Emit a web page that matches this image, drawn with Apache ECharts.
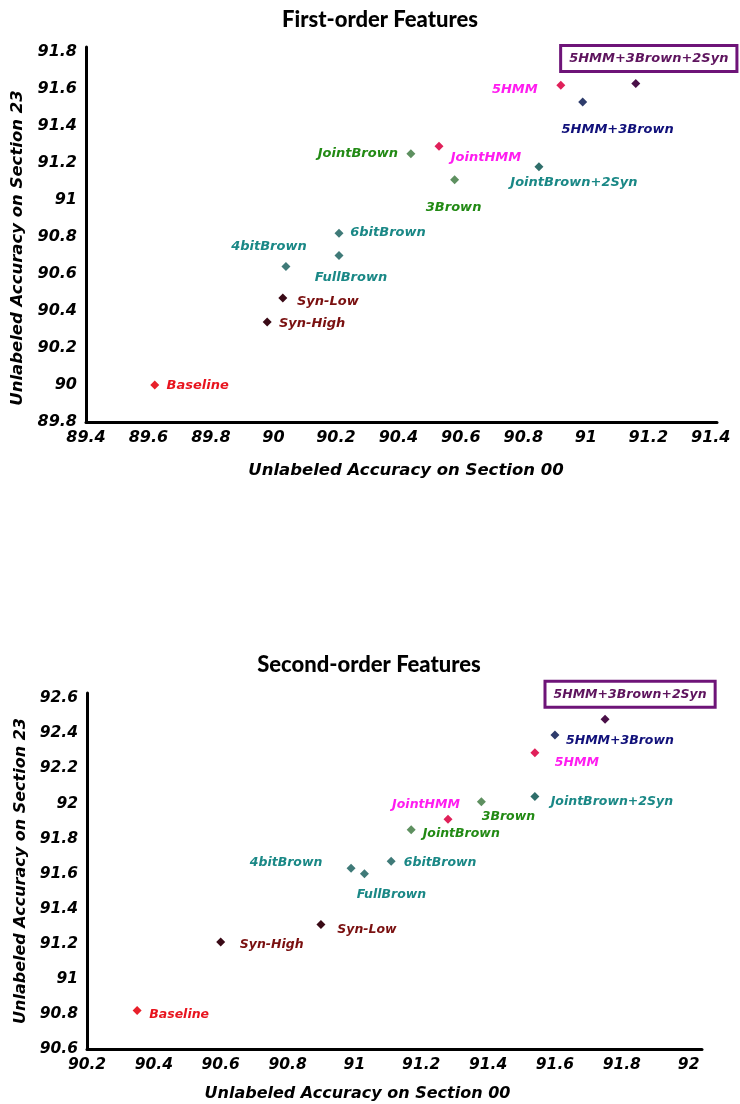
<!DOCTYPE html>
<html><head><meta charset="utf-8">
<script src="https://cdn.jsdelivr.net/npm/echarts@6/dist/echarts.min.js"></script>
<style>html,body{margin:0;padding:0;background:#fff}#c{width:740px;height:1104px}</style>
</head><body><div id="c"></div>
<script>
// ---- data ----
const categories = ['Baseline','Syn-High','Syn-Low','4bitBrown','FullBrown','6bitBrown','JointBrown','JointHMM','3Brown','JointBrown+2Syn','5HMM','5HMM+3Brown','5HMM+3Brown+2Syn'];
const firstOrderSec00  = [89.62, 89.98, 90.03, 90.04, 90.21, 90.21, 90.44, 90.53, 90.58, 90.85, 90.92, 90.99, 91.16];
const firstOrderSec23  = [90.00, 90.34, 90.47, 90.64, 90.70, 90.82, 91.25, 91.29, 91.11, 91.18, 91.62, 91.53, 91.63];
const secondOrderSec00 = [90.35, 90.60, 90.90, 90.99, 91.03, 91.11, 91.17, 91.28, 91.38, 91.54, 91.54, 91.60, 91.75];
const secondOrderSec23 = [90.82, 91.21, 91.31, 91.63, 91.60, 91.67, 91.85, 91.91, 92.01, 92.04, 92.29, 92.39, 92.48];
const firstXTicks  = [89.4, 89.6, 89.8, 90, 90.2, 90.4, 90.6, 90.8, 91, 91.2, 91.4];
const firstYTicks  = [89.8, 90, 90.2, 90.4, 90.6, 90.8, 91, 91.2, 91.4, 91.6, 91.8];
const secondXTicks = [90.2, 90.4, 90.6, 90.8, 91, 91.2, 91.4, 91.6, 91.8, 92];
const secondYTicks = [90.6, 90.8, 91, 91.2, 91.4, 91.6, 91.8, 92, 92.2, 92.4, 92.6];
const titles = ['First-order Features', 'Second-order Features'];
const xAxisTitle = 'Unlabeled Accuracy on Section 00';
const yAxisTitle = 'Unlabeled Accuracy on Section 23';
const boxedCategory = '5HMM+3Brown+2Syn';

// ---- styles / layout (kept apart from data) ----
const markerColors = ['#e8202a','#3a0a16','#3a0a16','#3f7a78','#3f7a78','#3f7a78','#5e9060','#e0205a','#5e9060','#2f6e6a','#e0205a','#2e3c6c','#4a1048'];
const labelColors  = ['#e8141e','#7a1010','#7a1010','#1a8886','#1a8886','#1a8886','#228a14','#ff1cf0','#228a14','#1a8886','#ff1cf0','#10107a','#5e145e'];
const firstLabelOffsets  = [[43,1],[45,2],[45,4],[-17,-20],[12,22],[49,-1],[-53,0],[47,11],[-1,28],[35,16],[-46,4],[35,28],[13,-25]];
const secondLabelOffsets = [[42,4],[51,3],[46,5],[-65,-6],[27,21],[49,1],[50,4],[-22,-15],[27,15],[77,5],[42,10],[65,6],[25,-25]];

const FONT = 'DejaVu Sans';

function buildData(xs, ys, offsets, fontSize) {
  return categories.map((name, i) => {
    const boxed = name === boxedCategory;
    return {
      name: name,
      value: [xs[i], ys[i]],
      itemStyle: { color: markerColors[i], opacity: 1 },
      label: Object.assign({
        show: true,
        position: 'inside',
        formatter: name,
        offset: offsets[i],
        color: labelColors[i],
        opacity: 1,
        fontFamily: FONT,
        fontWeight: 'bold',
        fontStyle: 'italic',
        fontSize: fontSize
      }, boxed ? {
        borderColor: '#6e1478', borderWidth: 3, backgroundColor: '#ffffff', padding: [5, 7]
      } : {})
    };
  });
}

function axisCommon(ticks, fontSize) {
  return {
    type: 'value',
    min: ticks[0],
    interval: +(ticks[1] - ticks[0]).toFixed(6),
    splitLine: { show: false },
    axisTick: { show: false },
    axisLine: { show: true, lineStyle: { color: '#000', width: 3 } },
    axisLabel: { showMaxLabel: false, color: '#000', fontFamily: FONT, fontWeight: 'bold', fontStyle: 'italic', fontSize: fontSize },
    nameLocation: 'middle',
    nameTextStyle: { color: '#000', fontFamily: FONT, fontWeight: 'bold', fontStyle: 'italic' }
  };
}

function mk(base, extra) {
  const o = JSON.parse(JSON.stringify(base));
  for (const k in extra) {
    if (typeof extra[k] === 'object' && !Array.isArray(extra[k]) && o[k]) Object.assign(o[k], extra[k]);
    else o[k] = extra[k];
  }
  return o;
}

const chart = echarts.init(document.getElementById('c'), null, { renderer: 'canvas' });
chart.setOption({
  backgroundColor: '#ffffff',
  animation: false,
  title: [
    { text: titles[0], left: 375, top: 4, textAlign: 'center', textStyle: { fontFamily: 'Lato', fontWeight: 900, fontSize: 22, color: '#000' } },
    { text: titles[1], left: 364, top: 649, textAlign: 'center', textStyle: { fontFamily: 'Lato', fontWeight: 900, fontSize: 22, color: '#000' } }
  ],
  grid: [
    { left: 86, top: 47, width: 631, height: 375 },
    { left: 87, top: 693, width: 615, height: 356 }
  ],
  xAxis: [
    mk(axisCommon(firstXTicks, 16), { gridIndex: 0, max: 91.42, name: xAxisTitle, nameGap: 40,
      axisLabel: { margin: 8 },
      nameTextStyle: { fontSize: 16.5, padding: [0, 0, 0, 9] } }),
    mk(axisCommon(secondXTicks, 15.5), { gridIndex: 1, max: 92.04, name: xAxisTitle, nameGap: 37,
      axisLabel: { margin: 8 },
      nameTextStyle: { fontSize: 16, padding: [0, 74, 0, 0] } })
  ],
  yAxis: [
    mk(axisCommon(firstYTicks, 16), { gridIndex: 0, max: 91.827, name: yAxisTitle, nameGap: 49,
      axisLabel: { margin: 9 },
      nameTextStyle: { fontSize: 16.5, padding: [0, 27, 0, 0] } }),
    mk(axisCommon(secondYTicks, 15.5), { gridIndex: 1, max: 92.63, name: yAxisTitle, nameGap: 45,
      axisLabel: { margin: 9 },
      nameTextStyle: { fontSize: 16 } })
  ],
  series: [
    { type: 'scatter', xAxisIndex: 0, yAxisIndex: 0, symbol: 'diamond', symbolSize: 9,
      data: buildData(firstOrderSec00, firstOrderSec23, firstLabelOffsets, 13) },
    { type: 'scatter', xAxisIndex: 1, yAxisIndex: 1, symbol: 'diamond', symbolSize: 9,
      data: buildData(secondOrderSec00, secondOrderSec23, secondLabelOffsets, 12.5) }
  ]
});
</script>
</body></html>
